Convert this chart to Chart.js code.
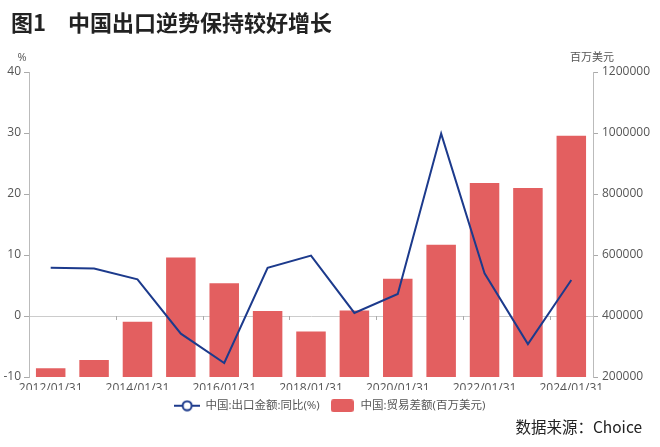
<!DOCTYPE html>
<html>
<head>
<meta charset="utf-8">
<script src="https://cdn.jsdelivr.net/npm/chart.js@4/dist/chart.umd.min.js"></script>
<style>
  html, body { margin: 0; padding: 0; background: #fff; }
  #wrap { width: 660px; height: 447px; }
</style>
</head>
<body>
<div id="wrap"><canvas id="grafik"></canvas></div>
<script>
// data
const years = ["2012/01/31", "2013/01/31", "2014/01/31", "2015/01/31", "2016/01/31", "2017/01/31",
               "2018/01/31", "2019/01/31", "2020/01/31", "2021/01/31", "2022/01/31", "2023/01/31", "2024/01/31"];
const exportYoY = [7.9, 7.8, 6.0, -2.9, -7.7, 7.9, 9.9, 0.5, 3.6, 29.9, 7.0, -4.6, 5.9];
const tradeBalance = [229000, 256000, 381000, 592000, 507000, 416000, 349000, 418000, 522000, 634000, 836000, 820000, 991000];
const leftTicks = [-10, 0, 10, 20, 30, 40];
const rightTicks = [200000, 400000, 600000, 800000, 1000000, 1200000];

const lineColor = "#1c3a8c";
const barColor = "#e35f60";

Chart.defaults.font.family = "'Open Sans', 'Noto Sans CJK SC', sans-serif";
Chart.defaults.color = "#555";

// legend icons
function lineIcon() {
    const c = document.createElement("canvas");
    c.width = 26; c.height = 12;
    const g = c.getContext("2d");
    g.strokeStyle = lineColor; g.lineWidth = 2;
    g.beginPath(); g.moveTo(0, 6); g.lineTo(26, 6); g.stroke();
    g.fillStyle = "#fff";
    g.beginPath(); g.arc(13, 6, 4.5, 0, Math.PI * 2); g.fill(); g.stroke();
    return c;
}
function boxIcon() {
    const c = document.createElement("canvas");
    c.width = 23; c.height = 13;
    const g = c.getContext("2d");
    g.fillStyle = barColor;
    g.beginPath(); g.roundRect(0, 0, 23, 13, 3); g.fill();
    return c;
}
const icons = [lineIcon(), boxIcon()];

const decor = {
    id: "decor",
    afterDraw(chart) {
        const {ctx, chartArea, scales} = chart;
        ctx.save();
        ctx.fillStyle = "#222";
        ctx.font = "bold 22px 'Noto Sans CJK SC', sans-serif";
        ctx.textBaseline = "middle";
        ctx.textAlign = "left";
        ctx.fillText("图1　中国出口逆势保持较好增长", 11, 23);

        // source line
        ctx.font = "15.5px 'Noto Sans CJK SC', sans-serif";
        ctx.textAlign = "right";
        ctx.fillText("数据来源：Choice", 642, 427);

        ctx.fillStyle = "#555";
        ctx.font = "11px 'Open Sans', 'Noto Sans CJK SC', sans-serif";
        ctx.textAlign = "center";
        ctx.fillText("%", chartArea.left - 7, chartArea.top - 14);
        ctx.fillText("百万美元", chartArea.right - 1, chartArea.top - 14);

        // small category ticks on the zero line
        const y0 = scales.y.getPixelForValue(0);
        ctx.strokeStyle = "#aaa";
        ctx.lineWidth = 1;
        for (let i = 2; i < years.length; i += 2) {
            const x = Math.round((scales.x.getPixelForValue(i - 1) + scales.x.getPixelForValue(i)) / 2) + 0.5;
            ctx.beginPath(); ctx.moveTo(x, y0); ctx.lineTo(x, y0 + 4); ctx.stroke();
        }
        ctx.restore();
    }
};

new Chart(document.getElementById("grafik"), {
    data: {
        labels: years,
        datasets: [
            {
                type: "line",
                label: "中国:出口金额:同比(%)",
                data: exportYoY,
                yAxisID: "y",
                borderColor: lineColor,
                borderWidth: 2,
                pointRadius: 0,
                tension: 0,
                order: 0,
            },
            {
                type: "bar",
                label: "中国:贸易差额(百万美元)",
                data: tradeBalance,
                yAxisID: "y1",
                backgroundColor: barColor,
                barPercentage: 0.68,
                categoryPercentage: 1,
                order: 1,
            },
        ],
    },
    options: {
        responsive: true,
        maintainAspectRatio: false,
        animation: false,
        layout: { padding: { top: 72, left: 0, right: 0, bottom: 31 } },
        plugins: {
            tooltip: { enabled: false },
            legend: {
                position: "bottom",
                maxHeight: 26,
                labels: {
                    usePointStyle: true,
                    pointStyleWidth: 25,
                    padding: 10,
                    color: "#555",
                    font: { size: 11.5 },
                    generateLabels: (chart) => chart.data.datasets.map((ds, i) => ({
                        text: ds.label,
                        pointStyle: icons[i],
                        datasetIndex: i,
                        fontColor: "#555",
                        lineWidth: 0,
                    })),
                },
            },
        },
        scales: {
            x: {
                grid: { display: false, drawTicks: false },
                border: { display: false },
                afterFit: (s) => { s.height = 13; },
                ticks: {
                    autoSkip: false,
                    maxRotation: 0,
                    padding: 4,
                    color: "#555",
                    font: { size: 12 },
                    callback: function (v, i) { return i % 2 === 0 ? years[i] : ""; },
                },
            },
            y: {
                position: "left",
                min: -10,
                max: 40,
                afterBuildTicks: (s) => { s.ticks = leftTicks.map((v) => ({ value: v })); },
                afterFit: (s) => { s.width = 29; },
                grid: {
                    color: (c) => (c.tick && c.tick.value === 0 ? "#ccc" : "rgba(0,0,0,0)"),
                    tickColor: "#aaa",
                    tickLength: 5,
                },
                border: { display: true, color: "#bbb" },
                ticks: { padding: 3, color: "#555", font: { size: 12 } },
            },
            y1: {
                position: "right",
                min: 200000,
                max: 1200000,
                afterBuildTicks: (s) => { s.ticks = rightTicks.map((v) => ({ value: v })); },
                afterFit: (s) => { s.width = 67; },
                grid: { drawOnChartArea: false, tickColor: "#aaa", tickLength: 5 },
                border: { display: true, color: "#bbb" },
                ticks: { padding: 4, color: "#555", font: { size: 12 }, callback: (v) => String(v) },
            },
        },
    },
    plugins: [decor],
});
</script>
</body>
</html>
